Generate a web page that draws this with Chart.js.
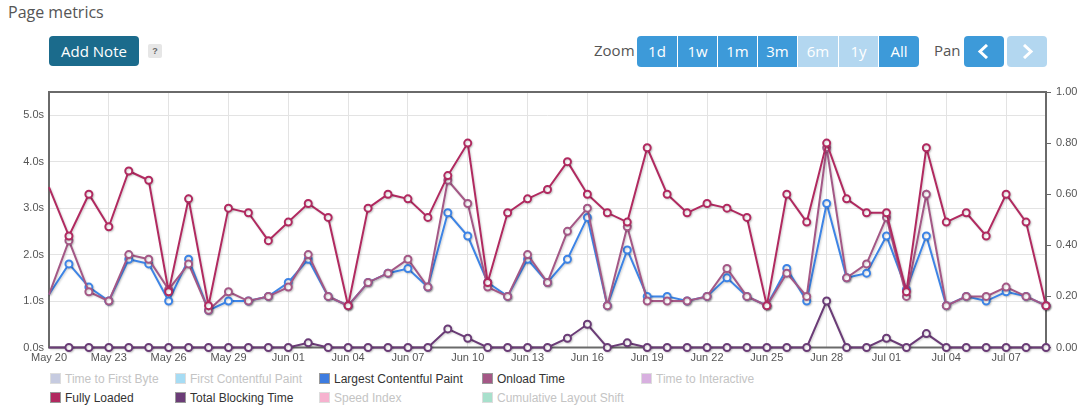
<!DOCTYPE html>
<html>
<head>
<meta charset="utf-8">
<script src="https://cdn.jsdelivr.net/npm/chart.js@4/dist/chart.umd.min.js"></script>
<style>
  body { margin: 0; width: 1087px; height: 417px; background: #fff; position: relative; overflow: hidden; font-family: "Open Sans", "Noto Sans", sans-serif; }
  .title { position: absolute; left: 8px; top: 1px; font-size: 16px; color: #555; }
  .addnote { position: absolute; left: 49px; top: 36px; width: 90px; height: 30px; background: #1b6b8c; color: #fff; border-radius: 4px; font-size: 15px; line-height: 30px; text-align: center; }
  .help { position: absolute; left: 148px; top: 44px; width: 14px; height: 14px; background: #e6e6e6; color: #666; border-radius: 2px; font-size: 9px; font-weight: bold; line-height: 14px; text-align: center; font-family: "Liberation Sans", sans-serif; }
  .lbl { position: absolute; top: 40px; font-size: 15px; color: #555; }
  .btn { position: absolute; top: 36px; height: 31px; background: #3d9ad9; color: #fff; font-size: 15px; line-height: 31px; text-align: center; }
  .btn.off { background: #b3d7f0; }
  .btn svg { position: absolute; left: 13px; top: 8px; }
  #wrap { position: absolute; left: 0; top: 80px; width: 1087px; height: 288px; }
  .leg { position: absolute; font-family: "Liberation Sans", Arial, sans-serif; font-size: 12px; color: #333; white-space: nowrap; }
  .leg.off { color: #c4c4c4; }
  .leg i { display: inline-block; width: 9px; height: 9px; border: 1px solid #999; margin-right: 4px; vertical-align: -1px; }
  .leg.off i { border-color: #ddd; }
</style>
</head>
<body>
<div class="title">Page metrics</div>
<div class="addnote">Add Note</div>
<div class="help">?</div>

<div class="lbl" style="left:594px">Zoom</div>
<div class="btn" style="left:637px;width:40px;border-radius:4px 0 0 4px">1d</div>
<div class="btn" style="left:678px;width:39px">1w</div>
<div class="btn" style="left:718px;width:39px">1m</div>
<div class="btn" style="left:758px;width:39px">3m</div>
<div class="btn off" style="left:798px;width:40px">6m</div>
<div class="btn off" style="left:839px;width:39px">1y</div>
<div class="btn" style="left:879px;width:40px;border-radius:0 4px 4px 0">All</div>
<div class="lbl" style="left:934px">Pan</div>
<div class="btn" style="left:964px;width:40px;border-radius:4px"><svg width="14" height="15"><polyline points="10,1 3,7.5 10,14" fill="none" stroke="#fff" stroke-width="3"/></svg></div>
<div class="btn off" style="left:1007px;width:40px;border-radius:4px"><svg width="14" height="15"><polyline points="4,1 11,7.5 4,14" fill="none" stroke="#fff" stroke-width="3"/></svg></div>

<div id="wrap"><canvas id="myChart"></canvas></div>
<div id="legend"></div>

<script>
const dates = ['May 20','May 21','May 22','May 23','May 24','May 25','May 26','May 27','May 28','May 29',
  'May 30','May 31','Jun 01','Jun 02','Jun 03','Jun 04','Jun 05','Jun 06','Jun 07','Jun 08',
  'Jun 09','Jun 10','Jun 11','Jun 12','Jun 13','Jun 14','Jun 15','Jun 16','Jun 17','Jun 18',
  'Jun 19','Jun 20','Jun 21','Jun 22','Jun 23','Jun 24','Jun 25','Jun 26','Jun 27','Jun 28',
  'Jun 29','Jun 30','Jul 01','Jul 02','Jul 03','Jul 04','Jul 05','Jul 06','Jul 07','Jul 08','Jul 09'];

const fullyLoaded = [3.45, 2.4, 3.3, 2.6, 3.8, 3.6, 1.2, 3.2, 0.9, 3.0,
  2.9, 2.3, 2.7, 3.1, 2.8, 0.9, 3.0, 3.3, 3.2, 2.8,
  3.7, 4.4, 1.4, 2.9, 3.2, 3.4, 4.0, 3.3, 2.9, 2.7,
  4.3, 3.3, 2.9, 3.1, 3.0, 2.8, 0.9, 3.3, 2.7, 4.4,
  3.2, 2.9, 2.9, 1.2, 4.3, 2.7, 2.9, 2.4, 3.3, 2.7, 0.9];

const onloadTime = [1.14, 2.3, 1.2, 1.0, 2.0, 1.9, 1.25, 1.8, 0.8, 1.2,
  1.0, 1.1, 1.3, 2.0, 1.1, 0.9, 1.4, 1.6, 1.9, 1.3,
  3.6, 3.1, 1.3, 1.1, 2.0, 1.4, 2.5, 3.0, 0.9, 2.6,
  1.0, 1.0, 1.0, 1.1, 1.7, 1.1, 0.9, 1.6, 1.1, 4.3,
  1.5, 1.8, 2.8, 1.1, 3.3, 0.9, 1.1, 1.1, 1.3, 1.1, 0.9];

const largestPaint = [1.14, 1.8, 1.3, 1.0, 1.9, 1.8, 1.0, 1.9, 0.8, 1.0,
  1.0, 1.1, 1.4, 1.9, 1.1, 0.9, 1.4, 1.6, 1.7, 1.3,
  2.9, 2.4, 1.4, 1.1, 1.9, 1.4, 1.9, 2.8, 0.9, 2.1,
  1.1, 1.1, 1.0, 1.1, 1.5, 1.1, 0.9, 1.7, 1.0, 3.1,
  1.5, 1.6, 2.4, 1.25, 2.4, 0.9, 1.1, 1.0, 1.2, 1.1, 0.9];

const blockingTime = [0, 0, 0, 0, 0, 0, 0, 0, 0, 0,
  0, 0, 0, 0.1, 0, 0, 0, 0, 0, 0,
  0.4, 0.2, 0, 0, 0, 0, 0.2, 0.5, 0, 0.1,
  0, 0, 0, 0, 0, 0, 0, 0, 0, 1.0,
  0, 0, 0.2, 0, 0.3, 0, 0, 0, 0, 0, 0];

const leftTicks = [0, 1, 2, 3, 4, 5];

const legendItems = [
  ['Time to First Byte', '#c6cbe0', false, 50, 380],
  ['First Contentful Paint', '#a6dcf4', false, 175, 380],
  ['Largest Contentful Paint', '#3d7ce0', true, 319, 380],
  ['Onload Time', '#a45886', true, 482, 380],
  ['Time to Interactive', '#d8b0e0', false, 641, 380],
  ['Fully Loaded', '#b12a60', true, 50, 399],
  ['Total Blocking Time', '#6b3c77', true, 175, 399],
  ['Speed Index', '#f6b2cf', false, 319, 399],
  ['Cumulative Layout Shift', '#a8e0cc', false, 482, 399]
];

const legend = document.getElementById('legend');
legendItems.forEach(([name, color, on, x, y]) => {
  const d = document.createElement('div');
  d.className = on ? 'leg' : 'leg off';
  d.style.left = x + 'px';
  d.style.top = (y - 8) + 'px';
  d.innerHTML = '<i style="background:' + color + '"></i>' + name;
  legend.appendChild(d);
});

const toPoints = (arr) => arr.map((v, i) => ({ x: i, y: v }));

const serie = (label, values, color) => ({
  label: label,
  data: toPoints(values),
  borderColor: color,
  borderWidth: 2,
  pointBorderColor: color,
  pointBackgroundColor: '#fff',
  pointBorderWidth: 2,
  pointRadius: (ctx) => ctx.dataIndex === 0 ? 0 : 3.5,
  tension: 0,
  clip: 8,
  yAxisID: 'y'
});

const shadow = {
  id: 'shadow',
  beforeDatasetDraw(chart) {
    const c = chart.ctx;
    c.save();
    c.shadowColor = 'rgba(0,0,0,0.18)';
    c.shadowBlur = 2;
    c.shadowOffsetX = 1;
    c.shadowOffsetY = 1;
  },
  afterDatasetDraw(chart) {
    chart.ctx.restore();
  }
};

const frame = {
  id: 'frame',
  beforeDatasetsDraw(chart) {
    const a = chart.chartArea;
    const c = chart.ctx;
    c.save();
    c.strokeStyle = '#6a6a6a';
    c.lineWidth = 2;
    c.strokeRect(a.left, a.top, a.right - a.left, a.bottom - a.top);
    c.restore();
  }
};

const ctx = document.getElementById('myChart').getContext('2d');
const myChart = new Chart(ctx, {
  type: 'line',
  data: {
    datasets: [
      serie('Fully Loaded', fullyLoaded, '#b12a60'),
      serie('Onload Time', onloadTime, '#a45886'),
      serie('Largest Contentful Paint', largestPaint, '#3d84e6'),
      serie('Total Blocking Time', blockingTime, '#6b3c77')
    ]
  },
  options: {
    responsive: true,
    maintainAspectRatio: false,
    animation: false,
    layout: { padding: { top: 12, left: 0, right: 0, bottom: 0 } },
    plugins: {
      legend: { display: false },
      tooltip: { enabled: false }
    },
    scales: {
      x: {
        type: 'linear',
        min: 0,
        max: dates.length - 1,
        afterFit: (s) => { s.height = 20.5; },
        afterBuildTicks: (s) => { s.ticks = dates.map((d, i) => ({ value: i })).filter(t => t.value % 3 === 0); },
        grid: { color: '#e3e3e3', drawTicks: false },
        border: { display: false },
        ticks: {
          padding: 4,
          maxRotation: 0,
          autoSkip: false,
          color: '#555',
          font: { family: 'Liberation Sans', size: 11 },
          callback: (v) => dates[v]
        }
      },
      y: {
        position: 'left',
        min: 0,
        max: 5.5,
        afterFit: (s) => { s.width = 49; },
        afterBuildTicks: (s) => { s.ticks = leftTicks.map(v => ({ value: v })); },
        grid: { color: '#e3e3e3', drawTicks: false },
        border: { display: false },
        ticks: {
          padding: 5,
          color: '#555',
          font: { family: 'Liberation Sans', size: 11 },
          callback: (v) => v.toFixed(1) + 's'
        }
      },
      y1: {
        position: 'right',
        display: true,
        min: 0,
        max: 1,
        afterFit: (s) => { s.width = 41; },
        grid: { drawOnChartArea: false, color: '#666', tickLength: 5 },
        border: { display: false },
        ticks: {
          stepSize: 0.2,
          padding: 5,
          color: '#555',
          font: { family: 'Liberation Sans', size: 11 },
          callback: (v) => v.toFixed(2)
        }
      }
    }
  },
  plugins: [frame, shadow]
});
</script>
</body>
</html>
